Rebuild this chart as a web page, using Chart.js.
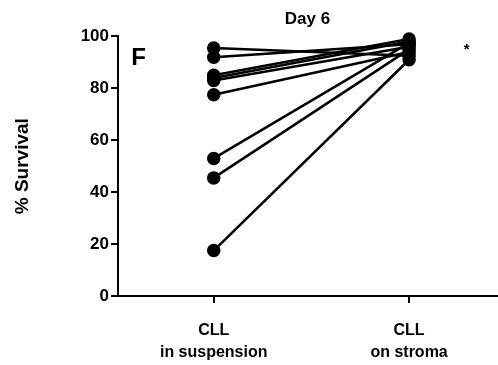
<!DOCTYPE html>
<html>
<head>
<meta charset="utf-8">
<script src="https://cdn.jsdelivr.net/npm/chart.js@4"></script>
<style>
  html, body { margin: 0; padding: 0; background: #fff; }
  #wrap { width: 498px; height: 365px; }
</style>
</head>
<body>
<div id="wrap"><canvas id="myChart"></canvas></div>
<script>
// data (% survival, day 6)
const categories = [['CLL', 'in suspension'], ['CLL', 'on stroma']];
const suspension = [95.5, 92, 85, 84, 83, 77.5, 53, 45.5, 17.5];
const stroma = [92.5, 97, 99, 98, 96, 94, 97.5, 95, 91];
const yTicks = [0, 20, 40, 60, 80, 100];

const font = 'Liberation Sans, Arial, sans-serif';

const datasets = suspension.map((v, i) => ({
  data: [{ x: 0, y: v }, { x: 1, y: stroma[i] }],
  showLine: true,
  borderColor: '#000',
  backgroundColor: '#000',
  borderWidth: 2.5,
  pointRadius: 5.5,
  pointHoverRadius: 5.5,
  clip: false
}));

// panel letter and significance star
const notes = {
  id: 'notes',
  afterDraw(chart) {
    const c = chart.ctx, x = chart.scales.x, y = chart.scales.y;
    c.save();
    c.fillStyle = '#000';
    c.textAlign = 'center';
    c.textBaseline = 'middle';
    c.font = 'bold 24px ' + font;
    c.fillText('F', x.getPixelForValue(-0.385), y.getPixelForValue(91.5));
    c.font = 'bold 15px ' + font;
    c.fillText('*', x.getPixelForValue(1.295), y.getPixelForValue(95));
    c.restore();
  }
};

new Chart(document.getElementById('myChart'), {
  type: 'scatter',
  data: { datasets },
  plugins: [notes],
  options: {
    responsive: true,
    maintainAspectRatio: false,
    animation: false,
    layout: { padding: { right: 1 }, autoPadding: false },
    plugins: {
      legend: { display: false },
      tooltip: { enabled: false },
      title: {
        display: true,
        text: 'Day 6',
        fullSize: false,
        color: '#000',
        font: { family: font, size: 17, weight: 'bold' },
        padding: { top: 9, bottom: 7 }
      }
    },
    scales: {
      x: {
        type: 'linear',
        min: -0.49,
        max: 1.45,
        afterBuildTicks: (s) => { s.ticks = [{ value: 0 }, { value: 1 }]; },
        afterFit: (s) => { s.height = 69; s.paddingLeft = 0; s.paddingRight = 0; },
        border: { display: true, color: '#000', width: 2 },
        grid: { drawOnChartArea: false, drawTicks: true, tickLength: 7, color: '#000', lineWidth: 2 },
        ticks: {
          color: '#000',
          padding: 17,
          font: { family: font, size: 16, weight: 'bold', lineHeight: 1.35 },
          callback: (v) => categories[v]
        }
      },
      y: {
        min: 0,
        max: 100,
        afterBuildTicks: (s) => { s.ticks = yTicks.map(v => ({ value: v })); },
        afterFit: (s) => { s.width = 118; },
        border: { display: true, color: '#000', width: 2 },
        grid: { drawOnChartArea: false, drawTicks: true, tickLength: 7, color: '#000', lineWidth: 2 },
        ticks: {
          color: '#000',
          padding: 2,
          font: { family: font, size: 17, weight: 'bold' }
        },
        title: {
          display: true,
          text: '% Survival',
          color: '#000',
          font: { family: font, size: 19, weight: 'bold' },
          padding: { top: 11, bottom: 0 }
        }
      }
    }
  }
});
</script>
</body>
</html>
